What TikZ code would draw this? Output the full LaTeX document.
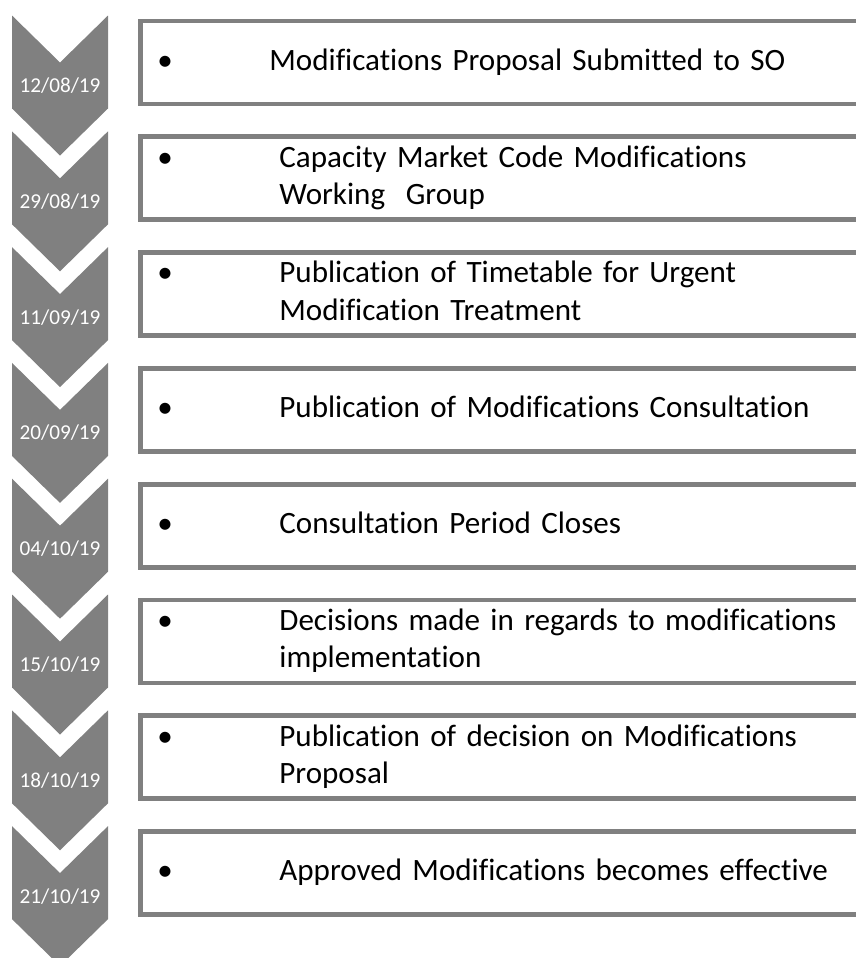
\documentclass[tikz,border=0pt]{standalone}
\usepackage{fontspec}
\setmainfont{Carlito}[Ligatures=NoCommon]
\definecolor{stepgray}{HTML}{808080}
\newcommand{\stepitem}[1]{\begin{tabular}{@{}p{91.5pt}@{}l@{}}\textbullet & #1\end{tabular}}

\begin{document}
\begin{tikzpicture}[x=0.75pt,y=-0.75pt,
	chevron/.style = {fill=stepgray},
	date/.style = {text=white, font=\fontsize{15.9}{19}\selectfont, inner sep=0pt},
	stepbox/.style = {rectangle, draw=stepgray, line width=3.6pt, fill=white, anchor=west,
		minimum width=549pt, minimum height=62.25pt, text width=523.5pt, inner xsep=12.75pt,
		inner ysep=0pt, align=left, font=\fontsize{23.3}{28.2}\selectfont}]
	\useasboundingbox (0,0) rectangle (856,958);
	% arrows down the left side
	\fill[chevron] (12, 15.5) -- ++(48,47) -- ++(48,-47) -- ++(0,93) -- ++(-48,47) -- ++(-48,-47) -- cycle;
	\fill[chevron] (12,131.3) -- ++(48,47) -- ++(48,-47) -- ++(0,93) -- ++(-48,47) -- ++(-48,-47) -- cycle;
	\fill[chevron] (12,247.1) -- ++(48,47) -- ++(48,-47) -- ++(0,93) -- ++(-48,47) -- ++(-48,-47) -- cycle;
	\fill[chevron] (12,362.9) -- ++(48,47) -- ++(48,-47) -- ++(0,93) -- ++(-48,47) -- ++(-48,-47) -- cycle;
	\fill[chevron] (12,478.7) -- ++(48,47) -- ++(48,-47) -- ++(0,93) -- ++(-48,47) -- ++(-48,-47) -- cycle;
	\fill[chevron] (12,594.5) -- ++(48,47) -- ++(48,-47) -- ++(0,93) -- ++(-48,47) -- ++(-48,-47) -- cycle;
	\fill[chevron] (12,710.3) -- ++(48,47) -- ++(48,-47) -- ++(0,93) -- ++(-48,47) -- ++(-48,-47) -- cycle;
	\fill[chevron] (12,826.1) -- ++(48,47) -- ++(48,-47) -- ++(0,93) -- ++(-48,47) -- ++(-48,-47) -- cycle;
	% dates
	\node (D1) at (60, 85.5)	[date]	{12/08/19};
	\node (D2) at (60,201.3)	[date]	{29/08/19};
	\node (D3) at (60,317.1)	[date]	{11/09/19};
	\node (D4) at (60,432.9)	[date]	{20/09/19};
	\node (D5) at (60,548.7)	[date]	{04/10/19};
	\node (D6) at (60,664.5)	[date]	{15/10/19};
	\node (D7) at (60,780.3)	[date]	{18/10/19};
	\node (D8) at (60,896.1)	[date]	{21/10/19};
	% steps
	\node (S1) at (138, 62.5)	[stepbox]	{\stepitem{\hspace*{-7.5pt}Modifications Proposal Submitted to SO}};
	\node (S2) at (138,178.3)	[stepbox]	{\stepitem{Capacity Market Code Modifications\\ & Working\ \ Group}};
	\node (S3) at (138,294.1)	[stepbox]	{\stepitem{Publication of Timetable for Urgent\\ & Modification Treatment}};
	\node (S4) at (138,409.9)	[stepbox]	{\stepitem{Publication of Modifications Consultation}};
	\node (S5) at (138,525.7)	[stepbox]	{\stepitem{Consultation Period Closes}};
	\node (S6) at (138,641.5)	[stepbox]	{\stepitem{Decisions made in regards to modifications\\ & implementation}};
	\node (S7) at (138,757.3)	[stepbox]	{\stepitem{Publication of decision on Modifications\\ & Proposal}};
	\node (S8) at (138,873.1)	[stepbox]	{\stepitem{Approved Modifications becomes effective}};
\end{tikzpicture}
\end{document}
